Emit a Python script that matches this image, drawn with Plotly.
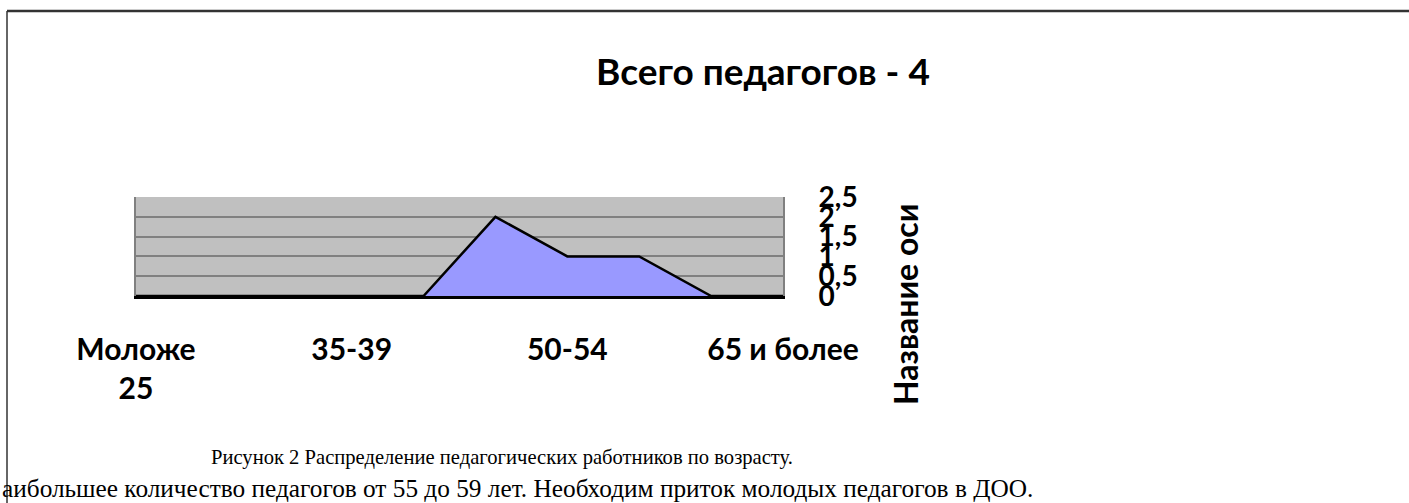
import plotly.graph_objects as go

categories = ["Моложе 25", "25-29", "30-34", "35-39", "40-44", "45-49",
              "50-54", "55-59", "60-64", "65 и более"]
values = [0, 0, 0, 0, 0, 2, 1, 1, 0, 0]
shown_ticks = ["Моложе 25", "35-39", "50-54", "65 и более"]
shown_tick_text = ["Моложе<br>25", "35-39", "50-54", "65 и более"]
y_ticks = [0, 0.5, 1, 1.5, 2, 2.5]

title_text = "Всего педагогов - 4"
y_title = "Название оси"
caption = "Рисунок 2 Распределение педагогических работников по возрасту."
body_text = "аибольшее количество педагогов от 55 до 59 лет. Необходим приток молодых педагогов в ДОО."

W, H = 1409, 503
L, R, T, B = 136, 783, 197, 296

def px(x):
    return (x - L) / (R - L)

def py(y):
    return (B - y) / (B - T)

fig = go.Figure()
fig.add_trace(go.Scatter(
    x=categories, y=values, mode="lines", fill="tozeroy",
    fillcolor="#9999FF", line=dict(color="black", width=2.5),
    hoverinfo="skip", showlegend=False))

fig.update_layout(
    width=W, height=H,
    margin=dict(l=L, r=W - R, t=T, b=H - B, pad=0),
    paper_bgcolor="white", plot_bgcolor="#C0C0C0",
    separators=", ",
    showlegend=False,
    title=dict(text=title_text,
               font=dict(family="Lato", size=37, color="black", weight="bold"),
               xref="container", yref="container",
               x=763 / W, y=1 - 72 / H, xanchor="center", yanchor="middle"),
    xaxis=dict(type="category", categoryorder="array", categoryarray=categories,
               range=[0, 9], tickvals=shown_ticks, ticktext=shown_tick_text,
               tickfont=dict(family="Lato", size=30, color="black", weight="bold"),
               showgrid=False, zeroline=False, showline=True, linecolor="black",
               linewidth=2.5, ticks="", ticklabelstandoff=25),
    yaxis=dict(range=[0, 2.5], tickvals=y_ticks, side="right",
               tickfont=dict(family="Lato", size=28, color="black", weight="bold"),
               showgrid=True, gridcolor="#808080", gridwidth=2,
               zeroline=False, showline=True, mirror=True, linecolor="#808080",
               linewidth=2, ticks="", ticklabelstandoff=28),
)

fig.add_annotation(text=y_title, textangle=-90, xref="paper", yref="paper",
                   x=px(905), y=py(305), showarrow=False,
                   font=dict(family="Lato", size=32, color="black", weight="bold"),
                   xanchor="center", yanchor="middle")

fig.add_annotation(text=caption, xref="paper", yref="paper",
                   x=px(502), y=py(457), showarrow=False,
                   font=dict(family="Liberation Serif", size=20.6, color="black"),
                   xanchor="center", yanchor="middle")
fig.add_annotation(text=body_text, xref="paper", yref="paper",
                   x=px(0), y=py(488), showarrow=False,
                   font=dict(family="Liberation Serif", size=25.3, color="black"),
                   xanchor="left", yanchor="middle")

# page frame
fig.add_shape(type="line", xref="paper", yref="paper",
              x0=px(7), x1=px(1409), y0=py(11), y1=py(11),
              line=dict(color="#333333", width=2.5))
fig.add_shape(type="line", xref="paper", yref="paper",
              x0=px(7), x1=px(7), y0=py(11), y1=py(503),
              line=dict(color="#333333", width=1.5))

fig.write_html("out.html", config={"displayModeBar": False},
               post_script="document.body.style.margin='0';document.body.style.overflow='hidden';")
